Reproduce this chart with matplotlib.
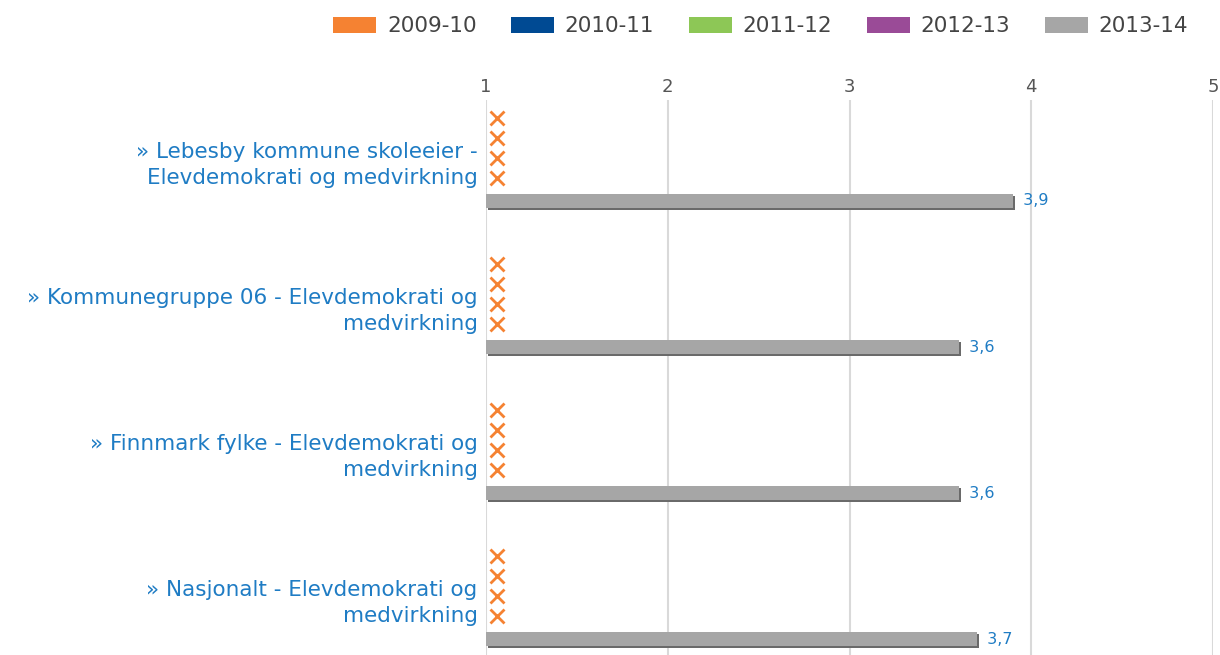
import numpy as np
import matplotlib
matplotlib.use('Agg')
import matplotlib.pyplot as plt
from matplotlib.patches import Patch
from matplotlib.transforms import ScaledTranslation
import matplotlib.patheffects as pe

# Data
categories = [
    "» Lebesby kommune skoleeier -\nElevdemokrati og medvirkning",
    "» Kommunegruppe 06 - Elevdemokrati og\nmedvirkning",
    "» Finnmark fylke - Elevdemokrati og\nmedvirkning",
    "» Nasjonalt - Elevdemokrati og\nmedvirkning",
]
years = ["2009-10", "2010-11", "2011-12", "2012-13", "2013-14"]
colors = ["#f58232", "#004a93", "#8dc756", "#9a4b97", "#a6a6a6"]
vals_0910 = [None, None, None, None]
vals_1011 = [None, None, None, None]
vals_1112 = [None, None, None, None]
vals_1213 = [None, None, None, None]
vals_1314 = [3.9, 3.6, 3.6, 3.7]
series = [vals_0910, vals_1011, vals_1112, vals_1213, vals_1314]

# slot offsets inside each group (group spacing = 1)
slot_off = np.array([-42, -22, -2, 18, 41]) / 146.0
bar_h = 14 / 146.0
missing_color = "#f58232"
label_color = "#1f7cc4"

fig = plt.figure(figsize=(12.2, 6.55), dpi=100)
ax = fig.add_axes([486 / 1220, 0, (1213 - 486) / 1220, 1 - 100 / 655])

x0 = 1
ypos = np.arange(len(categories))
miss_tr = ax.transData + ScaledTranslation(11 / 100, 0, fig.dpi_scale_trans)

for si, vals in enumerate(series):
    for ci, v in enumerate(vals):
        y = ypos[ci] + slot_off[si]
        if v is None:
            # missing value -> orange cross next to the axis
            ax.plot([x0], [y], marker='x', color=missing_color, markersize=10,
                    markeredgewidth=2.0, transform=miss_tr, zorder=4)
        else:
            b = ax.barh(y, v - x0, left=x0, height=bar_h, color=colors[si],
                        zorder=3)
            b[0].set_path_effects([pe.SimplePatchShadow(offset=(1.5, -1.5),
                                                        shadow_rgbFace='#6a6a6a',
                                                        alpha=1), pe.Normal()])
            ax.text(v, y, "  " + f"{v:.1f}".replace(".", ","), va='center',
                    ha='left', color=label_color, fontsize=11.5, zorder=5)

ax.set_xlim(1, 5)
ax.set_ylim(3 + 57 / 146, -60 / 146)
ax.xaxis.tick_top()
ax.set_xticks([1, 2, 3, 4, 5])
ax.tick_params(axis='x', length=0, pad=3, labelsize=13, labelcolor='#555555')
ax.set_yticks(ypos)
ax.set_yticklabels(categories, fontsize=15.5, color=label_color, linespacing=1.35)
ax.tick_params(axis='y', length=0, pad=6)
ax.grid(axis='x', color='#d9d9d9', linewidth=1.5, zorder=0)
for s in ax.spines.values():
    s.set_visible(False)

handles = [Patch(facecolor=c, edgecolor='none') for c in colors]
fig.legend(handles, years, loc='upper right', bbox_to_anchor=(0.987, 1.0), ncol=5,
           frameon=False, fontsize=15.5, handlelength=2.0, handleheight=0.75,
           columnspacing=1.6, handletextpad=0.5, labelcolor='#444444',
           borderaxespad=0.35)

fig.savefig("out.png", dpi=100)
